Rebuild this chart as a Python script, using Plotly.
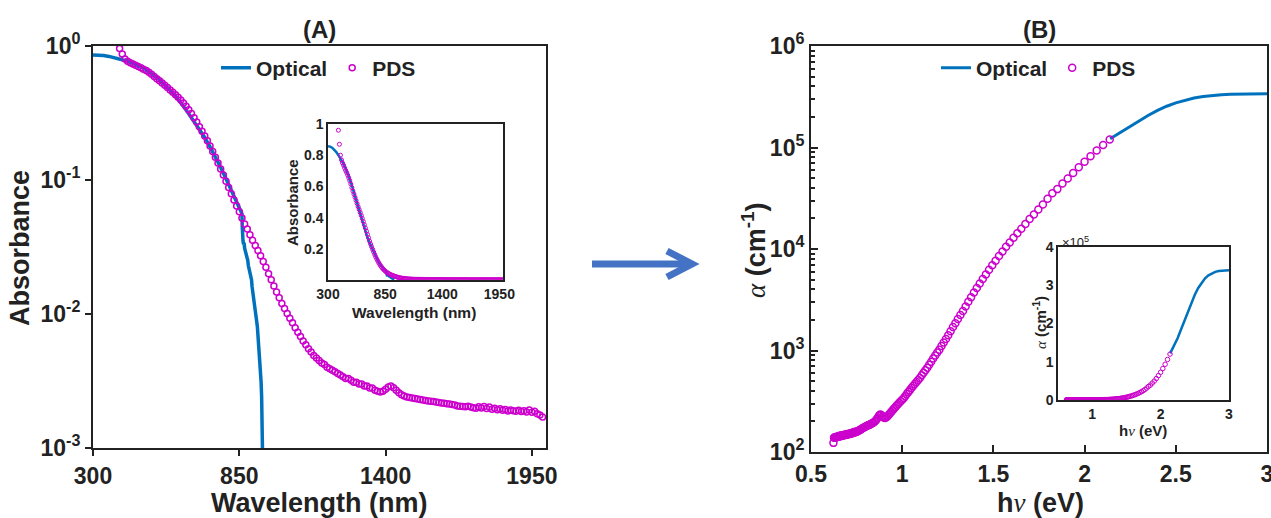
import plotly.graph_objects as go

W, H = 1271, 518

# ---------------- data ----------------
# (A) optical absorbance vs wavelength
opt_nm = [300, 320, 340, 360, 380, 400, 420, 440, 460, 480,
          500, 520, 540, 560, 580, 600, 620, 640, 660, 680,
          700, 720, 740, 760, 780, 800, 820, 840, 850, 852,
          854, 856, 858, 860, 861, 862, 864, 866, 868, 870,
          872, 874, 876, 878, 880, 882, 884, 886, 888, 890,
          892, 894, 896, 898, 900, 902, 904, 906, 908, 910,
          912, 914, 916, 918, 920, 922, 924, 926, 928, 930,
          932, 934, 935, 936, 937]
opt_abs = [0.857, 0.855, 0.848, 0.836, 0.820, 0.800, 0.780, 0.755, 0.730, 0.700,
           0.665, 0.625, 0.580, 0.535, 0.490, 0.445, 0.400, 0.355, 0.312, 0.272,
           0.240, 0.208, 0.177, 0.149, 0.124, 0.102, 0.084, 0.069, 0.062, 0.060,
           0.059, 0.058, 0.057, 0.056, 0.045, 0.036, 0.035, 0.033, 0.034, 0.031,
           0.030, 0.029, 0.029, 0.027, 0.026, 0.025, 0.023, 0.022, 0.021, 0.021,
           0.019, 0.018, 0.018, 0.016, 0.015, 0.015, 0.013, 0.012, 0.012, 0.011,
           0.0098, 0.0092, 0.0086, 0.0080, 0.0070, 0.0064, 0.0058, 0.0052, 0.0046, 0.0039,
           0.0031, 0.0024, 0.0020, 0.0015, 0.0010]

# (A) PDS absorbance, 10 nm grid from 400 nm to 1990 nm
pds_nm = list(range(400, 2000, 10))
pds_abs = [0.960, 0.870, 0.800, 0.770, 0.750, 0.735, 0.718, 0.702, 0.688, 0.672,
           0.655, 0.636, 0.615, 0.592, 0.570, 0.550, 0.530, 0.510, 0.490, 0.470,
           0.452, 0.433, 0.414, 0.395, 0.375, 0.355, 0.334, 0.313, 0.292, 0.271,
           0.250, 0.231, 0.213, 0.196, 0.179, 0.163, 0.148, 0.134, 0.121, 0.109,
           0.098, 0.088, 0.079, 0.071, 0.064, 0.058, 0.052, 0.047, 0.043, 0.039,
           0.0355, 0.0325, 0.0298, 0.0272, 0.0247, 0.0223, 0.0200, 0.0180, 0.0162, 0.0146,
           0.0132, 0.0120, 0.0110, 0.0101, 0.0093, 0.0086, 0.0079, 0.0073, 0.0068, 0.0063,
           0.0059, 0.0055, 0.0052, 0.0049, 0.0047, 0.0045, 0.0043, 0.0042, 0.0040, 0.0039,
           0.0038, 0.0037, 0.0036, 0.0035, 0.0034, 0.0033, 0.0033, 0.0032, 0.0031, 0.0031,
           0.0030, 0.0030, 0.0029, 0.0029, 0.0028, 0.0028, 0.0027, 0.00265, 0.00262, 0.00265,
           0.00275, 0.00285, 0.0029, 0.00282, 0.0027, 0.00258, 0.0025, 0.00244, 0.0024, 0.00238,
           0.00236, 0.00234, 0.00232, 0.0023, 0.00228, 0.00226, 0.00224, 0.00223, 0.00222, 0.0022,
           0.00219, 0.00217, 0.00216, 0.00214, 0.00213, 0.00211, 0.00209, 0.00206, 0.00205, 0.00204,
           0.00203, 0.00205, 0.00202, 0.0020, 0.00198, 0.00203, 0.00199, 0.00204, 0.00197, 0.00202,
           0.00195, 0.00198, 0.00193, 0.00196, 0.00191, 0.00194, 0.00189, 0.00192, 0.0019, 0.00188,
           0.00191, 0.00187, 0.0019, 0.00186, 0.00192, 0.00185, 0.00188, 0.0018, 0.00176, 0.0017]

# (B) optical absorption coefficient vs photon energy
opt_ev = [2.14, 2.20, 2.25, 2.30, 2.35, 2.40, 2.45, 2.50, 2.55, 2.60,
          2.65, 2.70, 2.75, 2.80, 2.85, 2.90, 2.95, 3.00]
opt_alpha = [1.22e5, 1.42e5, 1.62e5, 1.85e5, 2.08e5, 2.32e5, 2.55e5, 2.75e5, 2.93e5, 3.07e5,
             3.18e5, 3.26e5, 3.31e5, 3.35e5, 3.37e5, 3.38e5, 3.39e5, 3.39e5]

# (B) PDS absorption coefficient for the PDS wavelengths from 580 nm up
pds_b_nm = list(range(580, 2000, 10))
pds_alpha = [120000, 106000, 93300, 82200, 72400, 63800, 56200, 49500, 44200, 38900,
             35500, 31300, 27500, 24500, 21900, 19700, 17600, 15800, 14300, 12900,
             11600, 10500, 9440, 8510, 7670, 6920, 6240, 5620, 5070, 4570,
             4120, 3720, 3350, 3020, 2720, 2450, 2240, 2040, 1860, 1700,
             1550, 1410, 1300, 1200, 1110, 1020, 955, 891, 832, 776,
             724, 676, 638, 603, 569, 537, 513, 490, 468, 447,
             427, 407, 389, 372, 355, 339, 327, 316, 305, 295,
             285, 275, 266, 257, 248, 240, 232, 224, 219, 216,
             219, 224, 232, 234, 229, 219, 211, 204, 200, 195,
             193, 191, 188, 186, 184, 182, 180, 178, 176, 174,
             172, 170, 168, 166, 164, 162, 160, 158, 159, 157,
             155, 157, 155, 153, 151, 153, 151, 150, 151, 150,
             148, 150, 148, 146, 148, 146, 145, 146, 145, 143,
             145, 143, 141, 143, 141, 140, 141, 140, 138, 140,
             138, 123]
# photon energy (eV) from wavelength (nm)
pds_ev = [1239.84 / nm for nm in pds_b_nm]

wl_ticks = [300, 850, 1400, 1950]
abs_log_ticks = [1e-3, 1e-2, 1e-1, 1]
abs_log_text = ["10<sup>-3</sup>", "10<sup>-2</sup>", "10<sup>-1</sup>", "10<sup>0</sup>"]
abs_lin_ticks = [0.2, 0.4, 0.6, 0.8, 1]
abs_lin_text = ["0.2", "0.4", "0.6", "0.8", "1"]
ev_ticks = [0.5, 1, 1.5, 2, 2.5, 3]
ev_text = ["0.5", "1", "1.5", "2", "2.5", "3"]
alpha_log_ticks = [1e2, 1e3, 1e4, 1e5, 1e6]
alpha_log_text = ["10<sup>2</sup>", "10<sup>3</sup>", "10<sup>4</sup>", "10<sup>5</sup>", "10<sup>6</sup>"]
alpha_minor = [m * 10 ** e for e in range(2, 6) for m in range(2, 10)]
ev_inset_ticks = [1, 2, 3]
alpha_lin_ticks = [0, 1e5, 2e5, 3e5, 4e5]
alpha_lin_text = ["0", "1", "2", "3", "4"]

# ---------------- style ----------------
BLUE = "#0072BD"
MAG = "#CC00CC"
INK = "#222222"
FONT = "Arial, Liberation Sans, sans-serif"
SERIF = "Liberation Serif"


def px(x):
    return x / W


def py(y):
    return 1 - y / H


fig = go.Figure()

# (A) main
fig.add_trace(go.Scatter(x=opt_nm, y=opt_abs, mode="lines", name="Optical",
                         line=dict(color=BLUE, width=3.5), xaxis="x", yaxis="y",
                         legend="legend"))
fig.add_trace(go.Scatter(x=pds_nm, y=pds_abs, mode="markers", name="PDS",
                         marker=dict(symbol="circle-open", size=6, color=MAG,
                                     line=dict(width=1.5, color=MAG)),
                         xaxis="x", yaxis="y", legend="legend"))
# (A) inset
fig.add_trace(go.Scatter(x=opt_nm, y=opt_abs, mode="lines", showlegend=False,
                         line=dict(color=BLUE, width=2.5), xaxis="x3", yaxis="y3"))
fig.add_trace(go.Scatter(x=pds_nm, y=pds_abs, mode="markers", showlegend=False,
                         marker=dict(symbol="circle-open", size=4, color=MAG,
                                     line=dict(width=1, color=MAG)),
                         xaxis="x3", yaxis="y3"))
# (B) main
fig.add_trace(go.Scatter(x=opt_ev, y=opt_alpha, mode="lines", name="Optical",
                         line=dict(color=BLUE, width=3), xaxis="x2", yaxis="y2",
                         legend="legend2"))
fig.add_trace(go.Scatter(x=pds_ev, y=pds_alpha, mode="markers", name="PDS",
                         marker=dict(symbol="circle-open", size=7, color=MAG,
                                     line=dict(width=1.5, color=MAG)),
                         xaxis="x2", yaxis="y2", legend="legend2"))
# (B) inset
fig.add_trace(go.Scatter(x=opt_ev, y=opt_alpha, mode="lines", showlegend=False,
                         line=dict(color=BLUE, width=2.5), xaxis="x4", yaxis="y4"))
fig.add_trace(go.Scatter(x=pds_ev, y=pds_alpha, mode="markers", showlegend=False,
                         marker=dict(symbol="circle-open", size=4.5, color=MAG,
                                     line=dict(width=1, color=MAG)),
                         xaxis="x4", yaxis="y4"))

main_tick = dict(size=23, family=FONT, color=INK, weight="bold")
inset_tick = dict(size=14, family=FONT, color=INK, weight="bold")
base = dict(showgrid=False, zeroline=False, showline=True, mirror=True,
            linecolor=INK, tickcolor=INK, automargin=False,
            ticklabeloverflow="allow")

fig.update_layout(
    width=W, height=H, margin=dict(l=0, r=0, t=0, b=0, autoexpand=False), autosize=False,
    paper_bgcolor="white", plot_bgcolor="white",
    xaxis=dict(**base, domain=[px(93), px(546)], range=[300, 2003], anchor="y",
               tickmode="array", tickvals=wl_ticks, ticks="outside", ticklen=6,
               tickwidth=2, linewidth=2, tickfont=main_tick),
    yaxis=dict(**base, domain=[py(448), py(46)], type="log", range=[-3, 0], anchor="x",
               tickmode="array", tickvals=abs_log_ticks, ticktext=abs_log_text,
               ticks="outside", ticklen=6, tickwidth=2, linewidth=2, tickfont=main_tick),
    xaxis2=dict(**base, domain=[px(811), px(1267)], range=[0.5, 3.0], anchor="y2",
                tickmode="array", tickvals=ev_ticks, ticktext=ev_text, ticks="inside",
                ticklen=7, tickwidth=2, linewidth=2, tickfont=main_tick),
    yaxis2=dict(**base, domain=[py(452), py(46)], type="log", range=[2, 6], anchor="x2",
                tickmode="array", tickvals=alpha_log_ticks, ticktext=alpha_log_text,
                ticks="inside", ticklen=7, tickwidth=2, linewidth=2, tickfont=main_tick,
                minor=dict(tickmode="array", tickvals=alpha_minor, ticks="inside",
                           ticklen=4, tickwidth=1.5, tickcolor=INK, showgrid=False)),
    xaxis3=dict(**base, domain=[px(328), px(503)], range=[300, 1985], anchor="y3",
                tickmode="array", tickvals=wl_ticks, ticks="", linewidth=1.5,
                tickfont=inset_tick),
    yaxis3=dict(**base, domain=[py(280), py(124)], range=[0, 1], anchor="x3",
                tickmode="array", tickvals=abs_lin_ticks, ticktext=abs_lin_text,
                ticks="", linewidth=1.5, tickfont=inset_tick),
    xaxis4=dict(**base, domain=[px(1058), px(1229)], range=[0.5, 3.0], anchor="y4",
                tickmode="array", tickvals=ev_inset_ticks, ticks="", linewidth=1.5,
                tickfont=inset_tick),
    yaxis4=dict(**base, domain=[py(400), py(247)], range=[0, 4e5], anchor="x4",
                tickmode="array", tickvals=alpha_lin_ticks, ticktext=alpha_lin_text,
                ticks="", linewidth=1.5, tickfont=inset_tick),
    legend=dict(x=px(216), y=py(68), xanchor="left", yanchor="middle", orientation="h",
                font=dict(size=21, family=FONT, color=INK, weight="bold"),
                bgcolor="rgba(0,0,0,0)", itemwidth=30),
    legend2=dict(x=px(936), y=py(68), xanchor="left", yanchor="middle", orientation="h",
                 font=dict(size=21, family=FONT, color=INK, weight="bold"),
                 bgcolor="rgba(0,0,0,0)", itemwidth=30),
)

alpha_sym = f'<span style="font-family:{SERIF};font-weight:normal"><i>α</i></span>'
nu_sym = f'<span style="font-family:{SERIF};font-weight:normal"><i>ν</i></span>'


def label(text, x, y, size, angle=0, bold=True, xanchor="center"):
    fig.add_annotation(text=text, x=px(x), y=py(y), xref="paper", yref="paper",
                       showarrow=False, xanchor=xanchor, yanchor="middle",
                       textangle=angle,
                       font=dict(size=size, family=FONT, color=INK,
                                 weight="bold" if bold else "normal"))


label("(A)", 319, 29, 24)
label("(B)", 1039, 29, 24)
label("Absorbance", 20, 248, 27, angle=-90)
label("Wavelength (nm)", 319, 503, 27)
label(f"{alpha_sym} (cm<sup>-1</sup>)", 754, 250, 27, angle=-90)
label(f"h{nu_sym} (eV)", 1040, 503, 27)
label("Absorbance", 292, 203, 15, angle=-90)
label("Wavelength (nm)", 414, 312, 15.5)
label(f"{alpha_sym} (cm<sup>-1</sup>)", 1039, 323, 15, angle=-90)
label(f"h{nu_sym} (eV)", 1143, 430, 15)
label("×10<sup>5</sup>", 1060, 242, 13, bold=False, xanchor="left")

# arrow between the panels
ARROW = "#4472C4"
fig.add_shape(type="line", xref="paper", yref="paper",
              x0=px(592), y0=py(264), x1=px(688), y1=py(264),
              line=dict(color=ARROW, width=7))
fig.add_shape(type="path", xref="paper", yref="paper",
              path=f"M {px(667)},{py(251)} L {px(692)},{py(264)} L {px(667)},{py(277)}",
              line=dict(color=ARROW, width=7))

fig.write_html("out.html")
